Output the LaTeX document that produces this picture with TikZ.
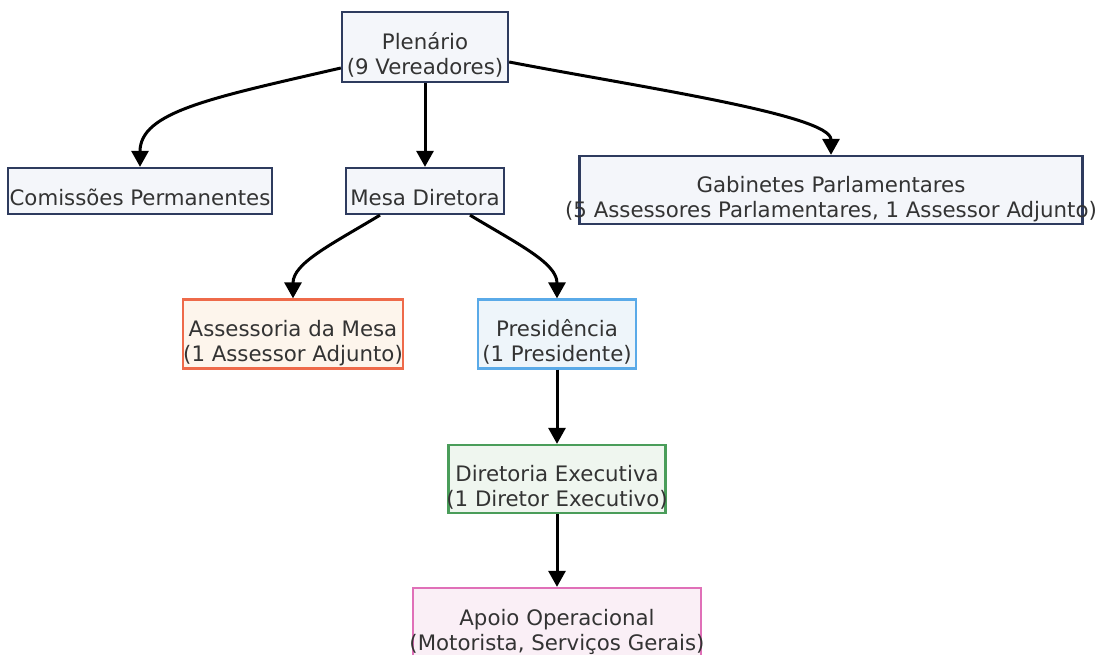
\documentclass[tikz,border=0pt]{standalone}
\usepackage{fontspec}
\setmainfont{DejaVu Sans}
\usetikzlibrary{arrows.meta}

\definecolor{ink}{HTML}{333333}
\definecolor{navy}{HTML}{2E3B5E}
\definecolor{paleblue}{HTML}{F4F6FA}
\definecolor{coral}{HTML}{EE6A4A}
\definecolor{cream}{HTML}{FDF5EC}
\definecolor{sky}{HTML}{5AAAE8}
\definecolor{icy}{HTML}{EEF5FA}
\definecolor{leaf}{HTML}{4A9D5A}
\definecolor{mint}{HTML}{EFF6EF}
\definecolor{rose}{HTML}{E070B8}
\definecolor{blush}{HTML}{FAEFF6}

% text hangs low and may spill over the box, as in the original
\newcommand{\boxtxt}[1]{\raisebox{-15pt}[0pt][0pt]{\makebox[0pt]{\begin{tabular}{@{}c@{}}#1\end{tabular}}}}

\tikzset{
  unit/.style={draw=navy, fill=paleblue, line width=2.3pt, inner sep=0pt,
    text=ink, font=\fontsize{21.3}{25}\selectfont},
  conn/.style={line width=3pt, -{Triangle[length=16pt,width=17pt]}},
}

\begin{document}
\begin{tikzpicture}[x=1pt,y=-1pt]
\useasboundingbox (0,0) rectangle (1098,655);
\clip (0,0) rectangle (1098,655);

\node[unit, minimum width=166pt, minimum height=70pt] (plen) at (425,47) {\boxtxt{Plenário\\(9 Vereadores)}};
\node[unit, minimum width=264pt, minimum height=46pt] (com) at (140,191) {\boxtxt{Comissões Permanentes}};
\node[unit, minimum width=158pt, minimum height=46pt] (mesa) at (425,191) {\boxtxt{Mesa Diretora}};
\node[unit, minimum width=503pt, minimum height=68pt] (gab) at (831,190) {\boxtxt{Gabinetes Parlamentares\\(5 Assessores Parlamentares, 1 Assessor Adjunto)}};
\node[unit, draw=coral, fill=cream, minimum width=220pt, minimum height=69pt] (asse) at (293,334) {\boxtxt{Assessoria da Mesa\\(1 Assessor Adjunto)}};
\node[unit, draw=sky, fill=icy, minimum width=158pt, minimum height=69pt] (pres) at (557,334) {\boxtxt{Presidência\\(1 Presidente)}};
\node[unit, draw=leaf, fill=mint, minimum width=217pt, minimum height=68pt] (dire) at (557,479) {\boxtxt{Diretoria Executiva\\(1 Diretor Executivo)}};
\node[unit, draw=rose, fill=blush, minimum width=288pt, minimum height=70pt] (apoio) at (557,623) {\boxtxt{Apoio Operacional\\(Motorista, Serviços Gerais)}};

\path[conn] (plen) edge (mesa)
            (pres) edge (dire)
            (dire) edge (apoio);
\draw[conn] ([yshift=-21pt]plen.west) .. controls +(-130,30) and +(0,-55) .. (com.north);
\draw[conn] ([yshift=-15pt]plen.east) .. controls +(130,25) and +(0,-40) .. (gab.north);
\draw[conn] ([xshift=-45pt]mesa.south) .. controls +(-50,30) and +(0,-35) .. (asse.north);
\draw[conn] ([xshift=45pt]mesa.south) .. controls +(50,30) and +(0,-35) .. (pres.north);
\end{tikzpicture}
\end{document}
